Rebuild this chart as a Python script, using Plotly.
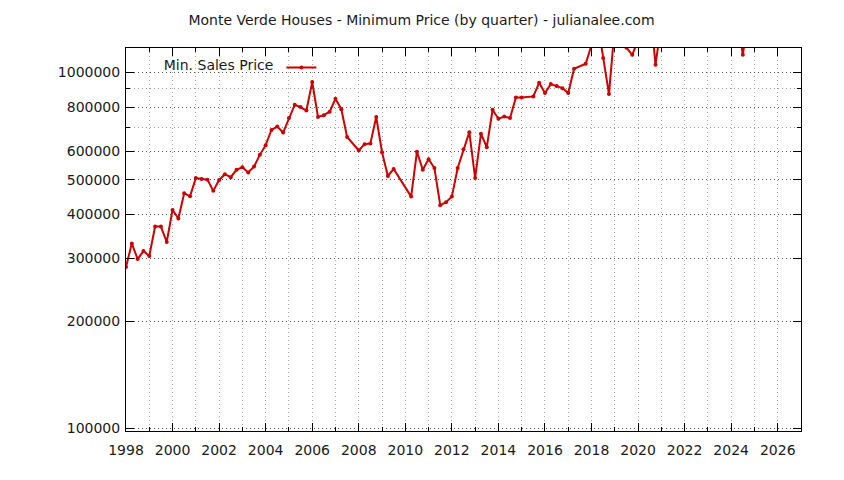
import plotly.graph_objects as go

# Monte Verde houses - minimum sale price per quarter (decimal year, USD)
quarters = [
    1998.00, 1998.25, 1998.50, 1998.75, 1999.00, 1999.25, 1999.50, 1999.75,
    2000.00, 2000.25, 2000.50, 2000.75, 2001.00, 2001.25, 2001.50, 2001.75,
    2002.00, 2002.25, 2002.50, 2002.75, 2003.00, 2003.25, 2003.50, 2003.75,
    2004.00, 2004.25, 2004.50, 2004.75, 2005.00, 2005.25, 2005.50, 2005.75,
    2006.00, 2006.25, 2006.50, 2006.75, 2007.00, 2007.25, 2007.50, 2008.00,
    2008.25, 2008.50, 2008.75, 2009.00, 2009.25, 2009.50, 2010.25, 2010.50,
    2010.75, 2011.00, 2011.25, 2011.50, 2011.75, 2012.00, 2012.25, 2012.50,
    2012.75, 2013.00, 2013.25, 2013.50, 2013.75, 2014.00, 2014.25, 2014.50,
    2014.75, 2015.00, 2015.50, 2015.75, 2016.00, 2016.25, 2016.50, 2016.75,
    2017.00, 2017.25, 2017.75, 2018.00, 2018.25, 2018.50, 2018.75, 2019.00,
    2019.25, 2019.50, 2019.75, 2020.00, 2020.25, 2020.50, 2020.75, 2021.00,
    2021.25, 2021.50, 2021.75, 2022.00, 2022.25, 2022.50, 2022.75, 2023.00,
    2023.25, 2023.50, 2023.75, 2024.00, 2024.25, 2024.50, 2024.75,
]
min_price = [
    284000, 331000, 299000, 315000, 305000, 369000, 369000, 334000,
    411000, 389000, 458000, 449000, 505000, 502000, 500000, 465000,
    499000, 518000, 508000, 533000, 542000, 524000, 544000, 587000,
    625000, 690000, 705000, 678000, 745000, 812000, 800000, 782000,
    940000, 750000, 759000, 776000, 844000, 789000, 659000, 604000,
    629000, 632000, 750000, 597000, 512000, 536000, 448000, 599000,
    533000, 571000, 539000, 424000, 432000, 448000, 539000, 609000,
    680000, 505000, 673000, 617000, 786000, 741000, 752000, 745000,
    851000, 851000, 857000, 936000, 876000, 928000, 916000, 904000,
    876000, 1025000, 1059000, 1195000, 1400000, 1098000, 870000, 1350000,
    1250000, 1175000, 1122000, 1230000, 1300000, 1560000, 1052000, 1380000,
    1450000, 1500000, 1600000, 1650000, 1700000, 1600000, 1550000, 1500000,
    1450000, 1500000, 1550000, 1500000, 1450000, 1122000, 1450000,
]

y_ticks = [100000, 200000, 300000, 400000, 500000, 600000, 800000, 1000000]
y_minor = [700000, 900000]

font = "DejaVu Sans"
red = "#cc0000"
dots = "1px,3px"

fig = go.Figure()
fig.add_trace(
    go.Scatter(
        x=quarters,
        y=min_price,
        mode="lines+markers",
        name="",
        line=dict(color=red, width=2),
        marker=dict(color=red, size=4, symbol="circle"),
    )
)

# page body has an 8px margin, so the figure is a bit smaller than the window
fig.update_layout(
    width=836,
    height=472,
    margin=dict(l=118, r=43, t=40, b=49),
    paper_bgcolor="white",
    plot_bgcolor="white",
    font=dict(family=font, size=14, color="#1a1a1a"),
    title=dict(
        text="Monte Verde Houses - Minimum Price (by quarter) - julianalee.com",
        x=0.4946,
        xanchor="center",
        y=0.975,
        yanchor="middle",
        font=dict(family=font, size=14, color="#1a1a1a"),
    ),
    showlegend=True,
    legend=dict(
        x=0.053,
        y=0.99,
        xanchor="left",
        yanchor="top",
        bgcolor="rgba(0,0,0,0)",
        itemwidth=30,
        title=dict(text="Min. Sales Price", side="left", font=dict(family=font, size=14)),
        font=dict(family=font, size=14),
    ),
)

fig.update_xaxes(
    range=[1998, 2027],
    tick0=1998,
    dtick=2,
    ticks="inside",
    ticklen=8,
    tickcolor="black",
    ticklabelstandoff=6,
    showline=True,
    linecolor="black",
    linewidth=1,
    mirror="ticks",
    showgrid=True,
    gridcolor="#a8a8a8",
    griddash=dots,
    gridwidth=1,
    zeroline=False,
    tickformat="d",
    minor=dict(
        dtick=1,
        ticks="inside",
        ticklen=4,
        tickcolor="black",
        showgrid=True,
        gridcolor="#a8a8a8",
        griddash=dots,
    ),
)

fig.update_yaxes(
    type="log",
    range=[4.9925, 6.069],
    tickvals=y_ticks,
    ticktext=[str(v) for v in y_ticks],
    ticks="inside",
    ticklen=8,
    tickcolor="black",
    ticklabelstandoff=2,
    showline=True,
    linecolor="black",
    linewidth=1,
    mirror="ticks",
    showgrid=True,
    gridcolor="#555555",
    griddash=dots,
    gridwidth=1,
    zeroline=False,
    minor=dict(
        tickvals=y_minor,
        ticks="inside",
        ticklen=4,
        tickcolor="black",
        showgrid=True,
        gridcolor="#999999",
        griddash=dots,
    ),
)

fig.write_html("out.html")
